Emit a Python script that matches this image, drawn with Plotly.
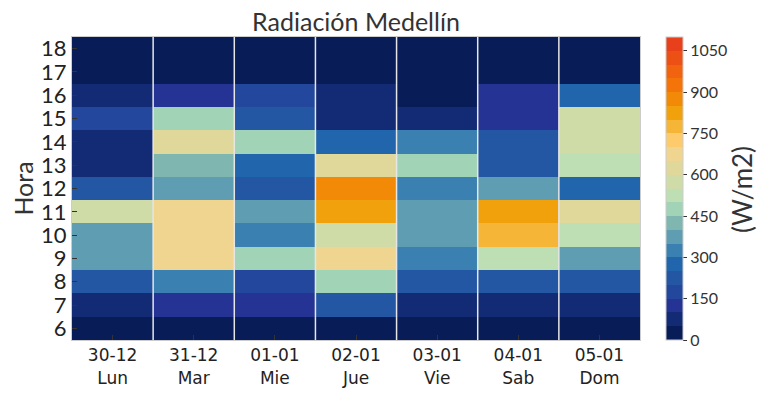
import plotly.graph_objects as go

days = ["30-12", "31-12", "01-01", "02-01", "03-01", "04-01", "05-01"]
weekdays = ["Lun", "Mar", "Mie", "Jue", "Vie", "Sab", "Dom"]
hours = [6, 7, 8, 9, 10, 11, 12, 13, 14, 15, 16, 17, 18]

# radiation (W/m2) per day, hours 6..18
lun = [10, 75, 225, 375, 375, 575, 225, 75, 75, 175, 75, 10, 10]
mar = [10, 125, 325, 675, 675, 675, 375, 425, 625, 475, 125, 10, 10]
mie = [10, 125, 175, 475, 325, 375, 225, 275, 475, 225, 175, 10, 10]
jue = [10, 225, 475, 675, 575, 825, 875, 625, 275, 75, 75, 10, 10]
vie = [10, 75, 225, 325, 375, 375, 325, 475, 325, 75, 10, 10, 10]
sab = [10, 75, 225, 525, 775, 825, 375, 225, 225, 125, 125, 10, 10]
dom = [10, 75, 225, 375, 525, 625, 275, 525, 575, 575, 275, 10, 10]

series = [lun, mar, mie, jue, vie, sab, dom]
z = [[series[d][h] for d in range(len(days))] for h in range(len(hours))]

cbar_ticks = [0, 150, 300, 450, 600, 750, 900, 1050]
zmin, zmax = 0, 1100

bin_colors = ["#081d58", "#132a74", "#253494", "#22479d", "#2356a3", "#2166ac",
              "#3a80b0", "#5f9eb2", "#7fb6b0", "#a1d3b7", "#bddfb3", "#cfdca7",
              "#dfd89a", "#f0d590", "#fdca6c", "#f5b537", "#f0a10c", "#f38a07",
              "#f5740a", "#f1630e", "#ec5014", "#e8401a"]
n = len(bin_colors)
colorscale = []
for i, c in enumerate(bin_colors):
    colorscale.append([i / n, c])
    colorscale.append([(i + 1) / n, c])

x_idx = list(range(len(days)))
fig = go.Figure(go.Heatmap(
    z=z, x=x_idx, y=hours, zmin=zmin, zmax=zmax, colorscale=colorscale,
    colorbar=dict(
        x=1.046, xanchor="left", y=0.5, yanchor="middle", len=1, lenmode="fraction",
        ypad=0, xpad=0,
        thickness=17, outlinewidth=1, outlinecolor="#cccccc",
        tickvals=cbar_ticks, ticks="outside", ticklen=4, tickcolor="#333",
        tickfont=dict(family="Lato", size=16, color="#333"),
    ),
    hoverongaps=False,
))

shapes = []
for i in range(len(days) - 1):
    shapes.append(dict(type="line", xref="x", yref="paper", x0=i + 0.5, x1=i + 0.5,
                       y0=0, y1=1, line=dict(color="#e6e6e6", width=1.5)))

# page body adds an 8px offset; margins compensate for it
L, T, PW, PH = 64, 29, 568, 303
fig.update_layout(
    width=767, height=395,
    margin=dict(l=L, r=767 - L - PW, t=T, b=395 - T - PH, autoexpand=False),
    paper_bgcolor="white", plot_bgcolor="white",
    title=dict(text="Radiación Medellín", x=(L + PW / 2) / 767, xanchor="center",
               y=1 - 14 / 395, yanchor="middle",
               font=dict(family="Lato", size=25, color="#333")),
    shapes=shapes,
    annotations=[dict(text="(W/m2)", textangle=-90, xref="paper", yref="paper",
                      x=(734 - L) / PW, y=0.495, xanchor="center", yanchor="middle",
                      showarrow=False, font=dict(family="Lato", size=26, color="#333"))],
    xaxis=dict(
        tickvals=x_idx, ticktext=[f"{d}<br>{w}" for d, w in zip(days, weekdays)],
        tickfont=dict(family="DejaVu Sans", size=17, color="#222"),
        ticks="inside", ticklen=5, tickcolor="#333",
        showgrid=False, zeroline=False, showline=True, linecolor="#cccccc", mirror=True,
        range=[-0.5, len(days) - 0.5],
    ),
    yaxis=dict(
        tickvals=hours, ticktext=[str(h) for h in hours],
        tickfont=dict(family="Lato", size=22, color="#222"),
        ticks="inside", ticklen=5, tickcolor="#333",
        title=dict(text="Hora", font=dict(family="Lato", size=25, color="#333"), standoff=12),
        showgrid=False, zeroline=False, showline=True, linecolor="#cccccc", mirror=True,
        range=[hours[0] - 0.5, hours[-1] + 0.5],
    ),
)

fig.write_html("out.html")
